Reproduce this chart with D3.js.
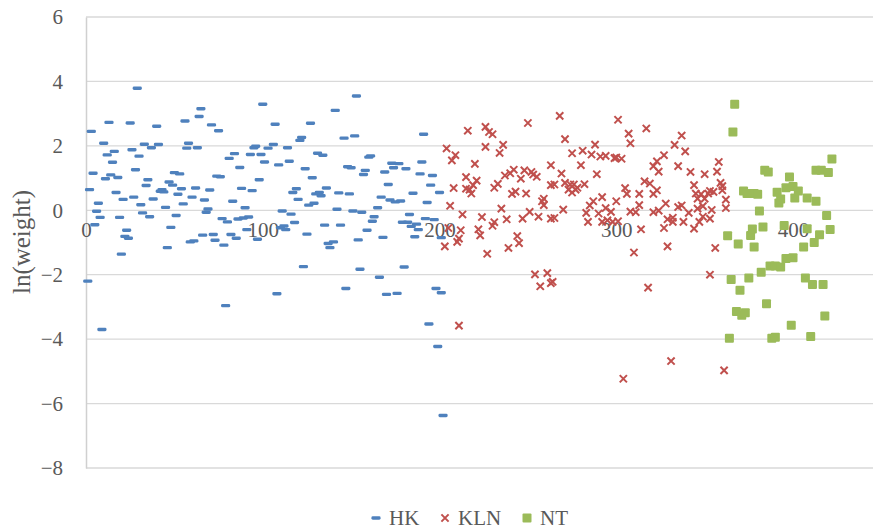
<!DOCTYPE html>
<html>
<head>
<meta charset="utf-8">
<script src="https://cdn.jsdelivr.net/npm/d3@7"></script>
<style>
  body { margin: 0; background: #fff; }
  text { font-family: "Liberation Serif", serif; fill: #595959; }
</style>
</head>
<body>
<div id="my_dataviz"></div>
<script>
var hk = [[1,-2.2],[2,0.64],[3,2.45],[4,1.15],[5,-0.45],[6,-0.03],[7,0.22],[8,-0.22],[9,-3.7],[10,2.08],[11,0.98],[12,1.72],[13,2.73],[14,1.1],[15,1.49],[16,1.83],[17,0.55],[18,1.02],[19,-0.22],[20,-1.36],[21,0.34],[22,-0.81],[23,-0.62],[24,-0.87],[25,2.71],[26,1.88],[27,0.41],[28,1.26],[29,3.79],[30,1.68],[31,0.17],[32,-0.08],[33,2.05],[34,0.77],[35,0.95],[36,-0.2],[37,1.94],[38,0.35],[40,2.61],[41,2.04],[42,0.59],[43,0.64],[44,0.57],[45,0.09],[46,-1.16],[47,0.88],[48,-0.53],[49,0.78],[50,1.17],[51,-0.16],[52,0.5],[53,1.13],[54,0.67],[55,0.2],[56,2.77],[57,1.93],[58,2.08],[59,-0.98],[60,0.41],[61,-0.95],[62,0.69],[63,1.94],[64,2.91],[65,3.15],[66,-0.77],[67,0.32],[68,-0.06],[69,0.04],[70,0.63],[71,2.65],[72,-0.75],[73,-0.93],[74,1.06],[75,2.47],[76,1.04],[77,-0.26],[78,-1.08],[79,-2.96],[80,-0.36],[81,1.61],[82,-0.75],[83,0.28],[84,1.76],[85,-0.87],[86,-0.27],[87,1.33],[88,0.68],[89,-0.24],[90,0.08],[91,-0.6],[92,-0.21],[93,1.73],[94,0.61],[95,1.94],[96,1.99],[97,-0.9],[98,0.95],[99,1.73],[100,3.29],[101,1.5],[103,1.93],[106,2.04],[107,2.67],[108,-2.59],[109,1.41],[110,-0.54],[111,-0.02],[112,-0.49],[113,-0.6],[114,1.94],[115,1.52],[116,-0.12],[117,0.55],[118,-0.38],[119,0.67],[120,0.34],[121,2.17],[122,2.26],[123,-1.75],[124,1.29],[125,-0.74],[126,0.16],[127,2.7],[128,1.01],[129,0.22],[130,0.51],[131,1.77],[132,0.55],[133,0.45],[134,1.71],[135,-0.46],[136,0.69],[137,-1.03],[138,-1.16],[140,-0.98],[141,3.1],[142,0.03],[143,0.54],[144,-0.46],[146,2.24],[147,-2.43],[148,1.35],[149,0.51],[150,1.32],[151,-0.02],[152,2.31],[153,3.55],[154,-0.92],[155,-1.83],[156,-0.06],[157,1.11],[158,1.24],[159,-0.62],[160,1.65],[161,1.69],[162,-0.34],[163,-0.2],[165,0.08],[166,-2.08],[167,0.41],[168,-0.84],[169,1.19],[170,-2.61],[171,0.8],[172,0.32],[173,1.46],[174,1.32],[175,0.26],[176,-2.58],[177,1.45],[178,0.29],[179,-0.37],[180,-1.76],[181,1.29],[182,-0.37],[183,-0.13],[184,-0.5],[185,0.53],[186,-0.82],[187,-0.43],[188,-0.6],[189,1.13],[190,1.5],[191,2.36],[192,-0.26],[193,0.24],[194,-3.53],[195,0.78],[196,1.08],[197,-0.29],[198,-2.43],[199,-4.23],[200,0.55],[201,-0.85],[201,-2.56],[202,-6.37]];

var kln = [[203,-1.12],[204,1.92],[205,-0.55],[206,0.14],[207,1.55],[208,0.69],[209,1.71],[210,-0.98],[211,-0.88],[211,-3.58],[212,-0.62],[213,-0.13],[215,1.03],[215,0.67],[216,2.47],[217,0.64],[218,0.52],[219,0.78],[220,1.44],[221,0.92],[222,-0.59],[223,-0.78],[224,-0.21],[226,2.59],[226,1.97],[227,-1.35],[228,2.43],[230,2.36],[230,-0.48],[231,0.7],[231,-0.37],[233,0.82],[234,1.78],[235,0.05],[236,2.03],[237,1.08],[238,-0.28],[239,-1.17],[240,1.15],[241,0.51],[242,1.26],[243,0.58],[244,-0.8],[245,-1.02],[246,0.98],[247,-0.26],[248,1.24],[249,0.52],[250,2.71],[251,-0.05],[252,1.19],[253,1.11],[254,-1.99],[255,1.04],[256,-0.2],[257,-2.36],[258,0.28],[259,0.36],[259,0.16],[261,-1.95],[263,1.4],[263,0.78],[263,-0.26],[263,-2.26],[264,-2.22],[265,0.8],[265,-0.24],[268,2.93],[269,1.14],[270,0.02],[271,2.21],[271,0.85],[273,0.64],[274,0.8],[275,1.77],[275,0.55],[276,0.8],[277,0.64],[278,0.7],[280,1.4],[281,1.85],[282,0.81],[283,-0.08],[284,-0.36],[285,0.15],[286,1.73],[287,0.28],[288,2.04],[289,1.12],[290,-0.1],[291,1.67],[292,0.41],[292,-0.36],[294,1.69],[294,0.07],[295,-0.31],[297,-0.05],[298,-0.36],[299,1.62],[300,1.64],[300,0.28],[301,2.81],[301,-0.34],[303,1.6],[304,-5.23],[305,0.69],[306,0.51],[307,2.38],[308,2.08],[308,-0.04],[310,-1.31],[311,-0.06],[313,0.51],[313,0.16],[314,-0.59],[316,0.9],[317,2.54],[318,-2.4],[319,0.83],[321,0.51],[321,1.37],[321,-0.06],[323,0.62],[323,1.52],[324,1.2],[324,-0.01],[327,1.71],[327,-0.55],[328,0.21],[329,-1.12],[329,-0.28],[331,-4.68],[332,-0.23],[332,-0.36],[333,2.03],[335,0.1],[335,1.37],[337,0.15],[337,2.32],[338,-0.36],[339,1.83],[341,-0.08],[342,1.19],[344,0.78],[344,-0.57],[345,0.52],[346,0.36],[346,0.05],[347,-0.36],[348,0.5],[349,0.13],[349,-0.2],[350,1.12],[350,0.36],[352,0.52],[353,0.6],[353,-0.26],[353,-2.0],[354,0.01],[355,0.57],[356,-1.17],[357,1.2],[358,1.5],[359,0.85],[360,0.75],[360,0.62],[361,-4.97],[362,0.33],[362,0.07]];

var nt = [[363,-0.79],[364,-3.97],[365,-2.15],[366,2.43],[367,3.29],[368,-3.14],[369,-1.05],[370,-2.48],[371,-3.26],[372,0.6],[373,-3.18],[374,0.52],[375,-2.1],[376,-0.78],[377,-0.58],[378,0.52],[378,-1.14],[380,0.5],[381,-0.02],[382,-1.92],[383,-0.52],[384,1.24],[385,-2.9],[386,1.19],[387,-1.73],[388,-3.97],[390,-1.73],[390,-3.94],[391,0.56],[392,0.23],[393,0.35],[393,-1.76],[395,-0.47],[396,0.7],[396,-1.5],[398,1.03],[399,-3.57],[400,0.74],[400,-1.47],[401,0.38],[403,0.6],[406,-1.14],[407,-2.1],[408,0.38],[408,-0.57],[410,-3.92],[411,-2.3],[412,-1.0],[413,1.24],[413,0.28],[415,-0.76],[416,1.24],[417,-2.3],[418,-3.28],[419,-0.16],[420,1.17],[421,-0.6],[422,1.59]];

var xTicks = [0, 100, 200, 300, 400];
var yTicks = [-8, -6, -4, -2, 0, 2, 4, 6];
var seriesNames = ["HK", "KLN", "NT"];
var colors = ["#4F81BD", "#C0504D", "#9BBB59"];

var width = 873, height = 531;

var svg = d3.select("#my_dataviz")
    .append("svg")
    .attr("width", width)
    .attr("height", height);

// scales (plot area runs past the right edge of the picture)
var x = d3.scaleLinear().domain([0, 450]).range([86, 881.4]);
var y = d3.scaleLinear().domain([-8, 6]).range([468, 17]);

// gridlines
svg.append("g")
    .selectAll("line")
    .data(yTicks)
    .enter()
    .append("line")
    .attr("x1", x(0))
    .attr("x2", width)
    .attr("y1", function(d) { return y(d); })
    .attr("y2", function(d) { return y(d); })
    .attr("stroke", "#d9d9d9")
    .attr("stroke-width", 1.3);

// Y axis
var yAxis = svg.append("g")
    .attr("transform", "translate(" + x(0) + ",0)")
    .call(d3.axisLeft(y).tickValues(yTicks).tickSize(0).tickPadding(23));
yAxis.select(".domain").attr("stroke", "#d0d0d0").attr("stroke-width", 1.5);
yAxis.selectAll("text")
    .style("font-family", "Liberation Serif")
    .style("font-size", "21px")
    .attr("fill", "#595959");

// X axis crossing at 0
var xAxis = svg.append("g")
    .attr("transform", "translate(0," + y(0) + ")")
    .call(d3.axisBottom(x).tickValues(xTicks).tickSize(0).tickPadding(12));
xAxis.select(".domain").remove();
xAxis.selectAll("text")
    .style("font-family", "Liberation Serif")
    .style("font-size", "21px")
    .attr("fill", "#595959");

// Y title
svg.append("text")
    .attr("transform", "translate(30," + 242 + ")rotate(-90)")
    .attr("text-anchor", "middle")
    .style("font-size", "25px")
    .text("ln(weight)");

// HK: dashes
svg.append("g")
    .selectAll("rect")
    .data(hk)
    .enter()
    .append("rect")
    .attr("x", function(d) { return x(d[0]) - 4.6; })
    .attr("y", function(d) { return y(d[1]) - 1.7; })
    .attr("width", 9.2)
    .attr("height", 3.4)
    .attr("rx", 1.4)
    .attr("fill", colors[0]);

// KLN: crosses
var cross = "M-3.6,-3.6L3.6,3.6M-3.6,3.6L3.6,-3.6";
svg.append("g")
    .selectAll("path")
    .data(kln)
    .enter()
    .append("path")
    .attr("d", cross)
    .attr("transform", function(d) { return "translate(" + x(d[0]) + "," + y(d[1]) + ")"; })
    .attr("stroke", colors[1])
    .attr("stroke-width", 2)
    .attr("fill", "none");

// NT: squares
svg.append("g")
    .selectAll("rect")
    .data(nt)
    .enter()
    .append("rect")
    .attr("x", function(d) { return x(d[0]) - 4.5; })
    .attr("y", function(d) { return y(d[1]) - 4.5; })
    .attr("width", 9)
    .attr("height", 9)
    .attr("rx", 1)
    .attr("fill", colors[2]);

// legend
var legendX = [376, 445, 527];
var legend = svg.append("g");
legend.append("rect")
    .attr("x", legendX[0] - 4.6).attr("y", 518 - 1.7)
    .attr("width", 9.2).attr("height", 3.4).attr("rx", 1.4)
    .attr("fill", colors[0]);
legend.append("path")
    .attr("d", cross)
    .attr("transform", "translate(" + legendX[1] + ",518)")
    .attr("stroke", colors[1]).attr("stroke-width", 2);
legend.append("rect")
    .attr("x", legendX[2] - 4.5).attr("y", 518 - 4.5)
    .attr("width", 9).attr("height", 9).attr("rx", 1)
    .attr("fill", colors[2]);
legend.selectAll("text")
    .data(seriesNames)
    .enter()
    .append("text")
    .attr("x", function(d, i) { return legendX[i] + 13; })
    .attr("y", 525)
    .style("font-size", "21px")
    .text(function(d) { return d; });
</script>
</body>
</html>
